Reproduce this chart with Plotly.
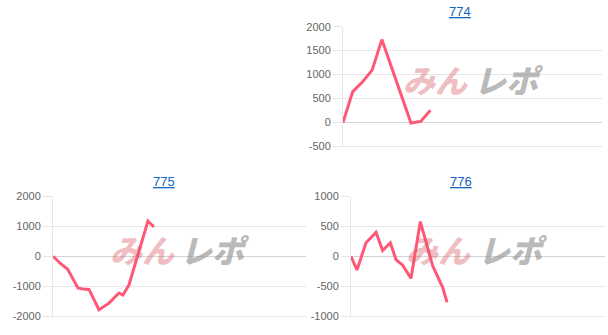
import plotly.graph_objects as go

W, H = 608, 335

# ---- data ----
titles = ["774", "775", "776"]

x774 = [0, 300, 600, 900, 1200, 1500, 1800, 2100, 2400, 2700]
y774 = [-10, 640, 840, 1090, 1730, 1150, 560, -20, 15, 250]

x775 = [0, 243, 458, 632, 790, 948, 1138, 1454, 1770, 2086, 2212, 2402, 3002, 3192]
y775 = [0, -250, -430, -760, -1060, -1100, -1110, -1790, -1570, -1230, -1300, -960, 1180, 980]

x776 = [0, 189, 472, 787, 997, 1239, 1417, 1627, 1890, 2184, 2572, 2887, 3024]
y776 = [0, -230, 225, 400, 95, 225, -56, -150, -370, 580, -160, -520, -770]

ticks774 = [-500, 0, 500, 1000, 1500, 2000]
ticks775 = [-2000, -1000, 0, 1000, 2000]
ticks776 = [-1000, -500, 0, 500, 1000]
X_MAX = 8000

series = [(x774, y774, ticks774), (x775, y775, ticks775), (x776, y776, ticks776)]

# panel geometry in pixels: (left, right, top, bottom)
boxes = [(343, 602, 26.7, 146), (53, 306, 196.5, 316), (351, 605, 196.5, 316)]
title_pos = [(459.5, 11), (163.5, 182), (460.5, 182)]
wm_pos = [(435, 509, 78.5), (142, 215, 248.5), (438, 513, 248.5)]

LINE = "rgb(255,88,118)"
GRID = "#e6e6e6"
ZERO = "#d4d4d4"
TICKFONT = dict(family="Liberation Sans, Arial, sans-serif", size=11, color="#666666")

fig = go.Figure()
layout = dict(width=W, height=H, autosize=False,
              margin=dict(l=0, r=0, t=0, b=0, pad=0, autoexpand=False),
              plot_bgcolor="white", paper_bgcolor="white",
              showlegend=False, annotations=[])

def px(x):
    return x / W

def py(y):
    return 1 - y / H

for i, ((xs, ys, tv), (l, r, t, b)) in enumerate(zip(series, boxes)):
    n = "" if i == 0 else str(i + 1)
    fig.add_trace(go.Scatter(x=xs, y=ys, mode="lines",
                             line=dict(color=LINE, width=3),
                             xaxis="x" + n, yaxis="y" + n,
                             hoverinfo="skip"))
    layout["xaxis" + n] = dict(domain=[px(l), px(r)], range=[0, X_MAX],
                               showgrid=False, zeroline=False,
                               showticklabels=False, ticks="",
                               showline=True, linecolor=GRID, linewidth=1,
                               anchor="y" + n, fixedrange=True, automargin=False)
    layout["yaxis" + n] = dict(domain=[py(b), py(t)], range=[tv[0], tv[-1]],
                               tickmode="array", tickvals=tv,
                               ticktext=[str(v) for v in tv],
                               showgrid=True, gridcolor=GRID, gridwidth=1,
                               zeroline=True, zerolinecolor=ZERO, zerolinewidth=1,
                               showline=True, linecolor=GRID, linewidth=1,
                               ticks="outside", ticklen=9, tickcolor=GRID,
                               tickwidth=1, tickfont=TICKFONT,
                               anchor="x" + n, fixedrange=True, automargin=False)

for name, (tx, ty) in zip(titles, title_pos):
    layout["annotations"].append(dict(
        text="<u>" + name + "</u>", x=px(tx), y=py(ty),
        xref="paper", yref="paper", xanchor="center", yanchor="middle",
        showarrow=False,
        font=dict(family="Liberation Sans, Arial, sans-serif", size=13, color="#1565c0")))

for (x1, x2, yy) in wm_pos:
    layout["annotations"].append(dict(
        text="<i>みん</i>", x=px(x1), y=py(yy),
        xref="paper", yref="paper", xanchor="center", yanchor="middle",
        showarrow=False,
        font=dict(family="Noto Sans CJK JP", size=32, weight=900,
                  color="rgba(220,95,105,0.42)")))
    layout["annotations"].append(dict(
        text="<i>レポ</i>", x=px(x2), y=py(yy),
        xref="paper", yref="paper", xanchor="center", yanchor="middle",
        showarrow=False,
        font=dict(family="Noto Sans CJK JP", size=32, weight=900,
                  color="rgba(140,140,140,0.62)")))

fig.update_layout(**layout)
fig.write_html("out.html", config={"displayModeBar": False})
